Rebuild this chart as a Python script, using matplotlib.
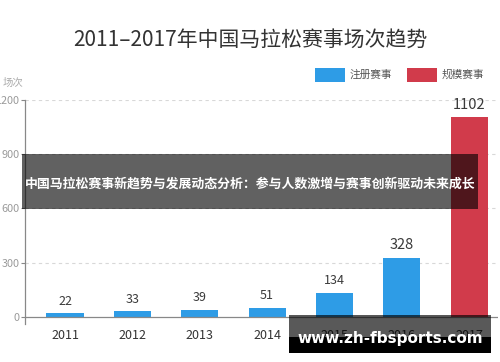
import matplotlib
matplotlib.use("Agg")
import matplotlib.pyplot as plt
from matplotlib.patches import Rectangle

plt.rcParams['font.family'] = ['Noto Sans CJK SC', 'DejaVu Sans']

YEARS = ["2011", "2012", "2013", "2014", "2015", "2016", "2017"]
REGISTERED = [22, 33, 39, 51, 134, 328]  # 注册赛事 2011-2016
SCALE = [1102]  # 规模赛事 2017
Y_TICKS = [0, 300, 600, 900, 1200]

TITLE = "2011–2017年中国马拉松赛事场次趋势"
LEGEND_LABELS = ["注册赛事", "规模赛事"]
BANNER = "中国马拉松赛事新趋势与发展动态分析：参与人数激增与赛事创新驱动未来成长"
WATERMARK = "www.zh-fbsports.com"

BLUE = "#2e9ce6"
RED = "#d13b4b"
W, H = 500, 362


def fx(px):
    return px / W


def fy(py):
    return 1 - py / H


fig = plt.figure(figsize=(5, 3.62), dpi=100)
ax = fig.add_axes([0.05, 0.104, 0.946, 0.621])

n_blue = len(REGISTERED)
blue_x = list(range(n_blue))
red_x = list(range(n_blue, n_blue + len(SCALE)))
ax.bar(blue_x, REGISTERED, width=0.55, color=BLUE, zorder=3)
ax.bar(red_x, SCALE, width=0.55, color=RED, zorder=3)

for i, v in enumerate(REGISTERED):
    size = 10.5 if v > 300 else 9
    ax.annotate(str(v), (blue_x[i], v), xytext=(0, 4), textcoords="offset points",
                ha="center", va="bottom", fontsize=size, color="#3a3a3a")
for i, v in enumerate(SCALE):
    ax.annotate(str(v), (red_x[i], v), xytext=(0, 4), textcoords="offset points",
                ha="center", va="bottom", fontsize=10.5, color="#3a3a3a")

ax.set_xlim(-0.594, 6.43)
ax.set_ylim(-40, 1200)
ax.set_yticks(Y_TICKS)
ax.set_yticklabels([str(t) for t in Y_TICKS], fontsize=7.8, color="#9a9a9a")
ax.set_xticks(range(len(YEARS)))
ax.set_xticklabels(YEARS, fontsize=9, color="#333333")
ax.tick_params(axis="x", length=0, pad=3)
ax.tick_params(axis="y", length=3, width=0.8, color="#888888", pad=1)
for t in Y_TICKS[1:]:
    ax.axhline(t, color="#d8d8d8", lw=0.8, ls=(0, (3, 3)), zorder=1)
ax.axhline(0, color="#888888", lw=0.9, zorder=4)
for s in ["top", "right", "bottom"]:
    ax.spines[s].set_visible(False)
ax.spines["left"].set_color("#888888")
ax.spines["left"].set_linewidth(0.9)

fig.text(0.5, fy(40), TITLE, ha="center", va="center", fontsize=15, color="#333333")
fig.text(fx(3), fy(83), "场次", ha="left", va="center", fontsize=7.5, color="#aaaaaa")

# legend
for (x0, label, color) in [(315, LEGEND_LABELS[0], BLUE), (407, LEGEND_LABELS[1], RED)]:
    fig.add_artist(Rectangle((fx(x0), fy(82)), fx(30), 14 / H, transform=fig.transFigure,
                             color=color, lw=0))
    fig.text(fx(x0 + 35), fy(75), label, ha="left", va="center", fontsize=7.7, color="#555555")

# overlay banner
fig.add_artist(Rectangle((fx(22), fy(209)), fx(456), 55 / H, transform=fig.transFigure,
                         color="black", alpha=0.62, lw=0, zorder=10))
fig.text(0.5, fy(184), BANNER, ha="center", va="center", fontsize=9.3,
         fontweight="bold", color="white", zorder=11)

# watermark
fig.add_artist(Rectangle((fx(289), fy(337)), fx(202), 22 / H, transform=fig.transFigure,
                         color="black", alpha=0.65, lw=0, zorder=10))
fig.add_artist(Rectangle((fx(289), fy(353)), fx(202), 16 / H, transform=fig.transFigure,
                         color="black", lw=0, zorder=10))
fig.text(fx(390), fy(338), WATERMARK, ha="center", va="center", fontsize=11,
         fontweight="bold", color="white", family="DejaVu Sans", zorder=11)

fig.savefig("out.png", dpi=100)
